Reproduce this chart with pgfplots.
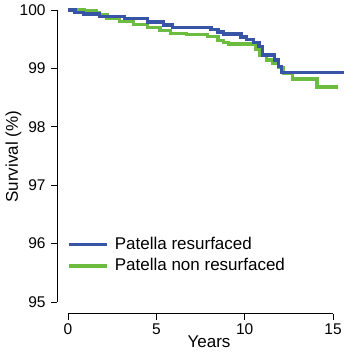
\documentclass[border=0pt]{standalone}
\usepackage{fontspec}
\setmainfont{Liberation Sans}
\usepackage{pgfplots}
\usepackage{pgfplotstable}
\pgfplotsset{compat=1.18}
\definecolor{pblue}{RGB}{56,84,166}
\definecolor{pgreen}{RGB}{108,188,64}
\pgfplotstableread{
x y
0 100
0.4 99.96
0.87 99.93
1.8 99.89
3.2 99.85
4.5 99.79
5.4 99.74
5.9 99.70
8.1 99.66
8.5 99.62
8.8 99.59
9.8 99.54
10.1 99.49
10.5 99.44
10.8 99.37
11.0 99.23
11.7 99.14
11.9 99.03
12.1 98.93
15.6 98.93
}\blue
\pgfplotstableread{
x y
0 100
0.9 99.99
1.6 99.96
1.8 99.91
2.2 99.86
2.9 99.80
3.7 99.75
4.5 99.70
5.2 99.65
5.8 99.60
6.7 99.58
7.9 99.55
8.5 99.48
8.8 99.44
9.1 99.42
10.6 99.32
10.85 99.23
11.25 99.14
11.6 99.09
11.9 99.01
12.2 98.92
12.7 98.82
14.1 98.68
15.3 98.68
}\green
\begin{document}
\fontsize{17}{20}\selectfont
\begin{tikzpicture}
\begin{axis}[
 name=ax,
 scale only axis, width=286.2pt, height=313.7pt,
 xmin=-0.6, xmax=15.6, ymin=94.8, ymax=100.17,
 axis lines*=left, axis line style={draw=none},
 xtick={0,5,10,15}, ytick={95,96,97,98,99,100},
 minor tick num=0,
 tick align=outside, major tick length=6pt, tick style={black, line width=0.8pt},
 /pgf/number format/assume math mode=true,
 ticklabel style={font=\fontsize{15.5}{18}\selectfont},
 xticklabel style={inner sep=3.5pt},
 xlabel={Years}, ylabel={Survival (\%)},
 xlabel style={at={([yshift=-33.3pt]axis description cs:0.5297,0)}, anchor=base},
 ylabel style={at={([xshift=-44pt]axis description cs:0,0.5)}, anchor=center},
 clip=false,
 legend cell align=left,
 legend style={draw=none, fill=none, inner sep=0pt, at={(axis cs:-0.07,96.12)}, anchor=north west, row sep=5.5pt, column sep=6pt, nodes={inner sep=0.5pt}},
 legend image code/.code={\draw[#1] (0pt,0pt) -- (38pt,0pt);},
]
\draw[black, line width=0.8pt] (axis cs:-0.6,95) -- (axis cs:-0.6,100);
\draw[black, line width=0.8pt] (axis cs:0,94.8) -- (axis cs:15,94.8);
\addplot[const plot, pblue, line width=3.4pt] table {\blue};
\addlegendentry{Patella resurfaced}
\addplot[const plot, pgreen, line width=3.4pt] table {\green};
\addlegendentry{Patella non resurfaced}
\addplot[const plot, pblue, line width=3.4pt, forget plot] table {\blue};
\end{axis}
\pgfresetboundingbox
\path ([xshift=-57.4pt,yshift=-39.3pt]ax.south west) rectangle ([xshift=1.4pt]ax.north east);
\end{tikzpicture}
\end{document}
